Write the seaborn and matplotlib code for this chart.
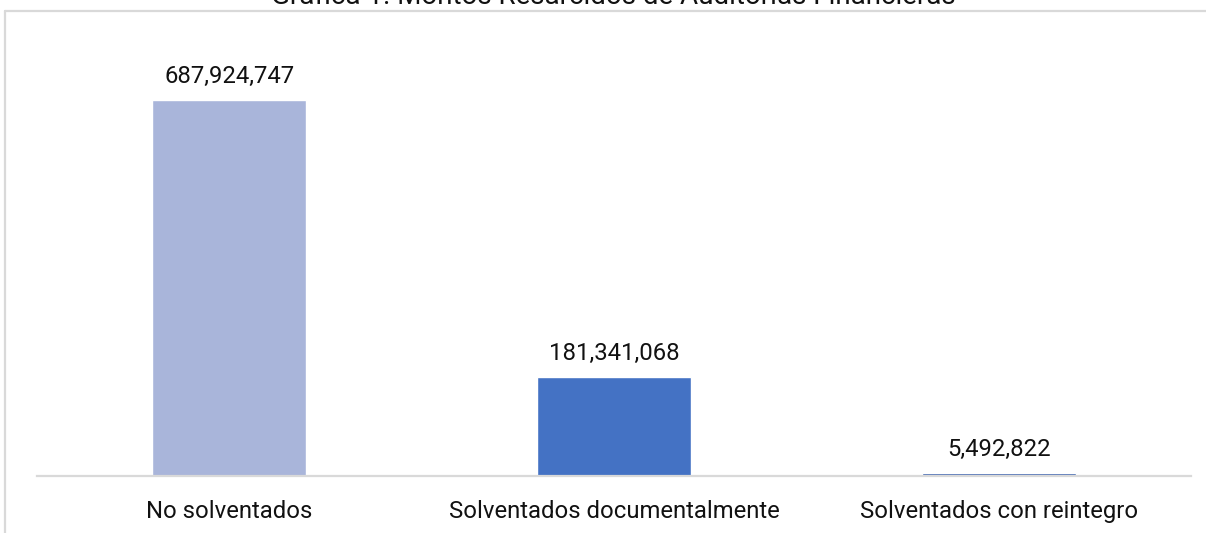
import matplotlib
matplotlib.use("Agg")
import matplotlib.pyplot as plt
import seaborn as sns
import pandas as pd
from matplotlib.lines import Line2D

categories = ["No solventados", "Solventados documentalmente", "Solventados con reintegro"]
values = [687924747, 181341068, 5492822]
colors = ["#A9B5DA", "#4472C4", "#3B62AC"]
title = "Gráfica 1. Montos Resarcidos de Auditorías Financieras"

sns.set_theme(style="white")
plt.rcParams["font.family"] = ["Roboto", "DejaVu Sans"]

W, H = 1206, 533
fig = plt.figure(figsize=(W / 100, H / 100), dpi=100)
fig.patch.set_facecolor("white")

FS = 17.2

# axes placement in pixels
ax_left, ax_right = 37, 1191
ax_base, ax_top = 476, 30
ax = fig.add_axes([ax_left / W, (H - ax_base) / H, (ax_right - ax_left) / W, (ax_base - ax_top) / H])

df = pd.DataFrame({"cat": categories, "val": values})
sns.barplot(data=df, x="cat", y="val", hue="cat", palette=colors, width=0.4,
            legend=False, ax=ax, saturation=1)

# scale: top bar reaches y=100 px
px_per_val = (ax_base - 100) / values[0]
ax.set_ylim(0, (ax_base - ax_top) / px_per_val)
ax.set_xlim(-0.5, len(categories) - 0.5)

for i, v in enumerate(values):
    ax.annotate(f"{v:,.0f}", (i, v), xytext=(0, 12), textcoords="offset pixels",
                ha="center", va="bottom", fontsize=FS, color="#111111")

for s in ["top", "right", "left"]:
    ax.spines[s].set_visible(False)
ax.spines["bottom"].set_color("#D9D9D9")
ax.spines["bottom"].set_linewidth(1.6)
ax.set_yticks([])
ax.set_xlabel("")
ax.set_ylabel("")
ax.tick_params(axis="x", length=0, pad=17.5, labelsize=FS, labelcolor="#111111")
ax.set_facecolor("none")

# outer chart frame (extends beyond the image)
fig.add_artist(Line2D([4.5 / W, 4.5 / W], [0, (H - 10.5) / H], transform=fig.transFigure,
                      color="#D9D9D9", lw=1.6))
fig.add_artist(Line2D([4.5 / W, 1], [(H - 10.5) / H, (H - 10.5) / H], transform=fig.transFigure,
                      color="#D9D9D9", lw=1.6))

fig.text(613 / W, (H - 4) / H, title, ha="center", va="baseline", fontsize=20, color="#111111")

fig.savefig("out.png", dpi=100)
